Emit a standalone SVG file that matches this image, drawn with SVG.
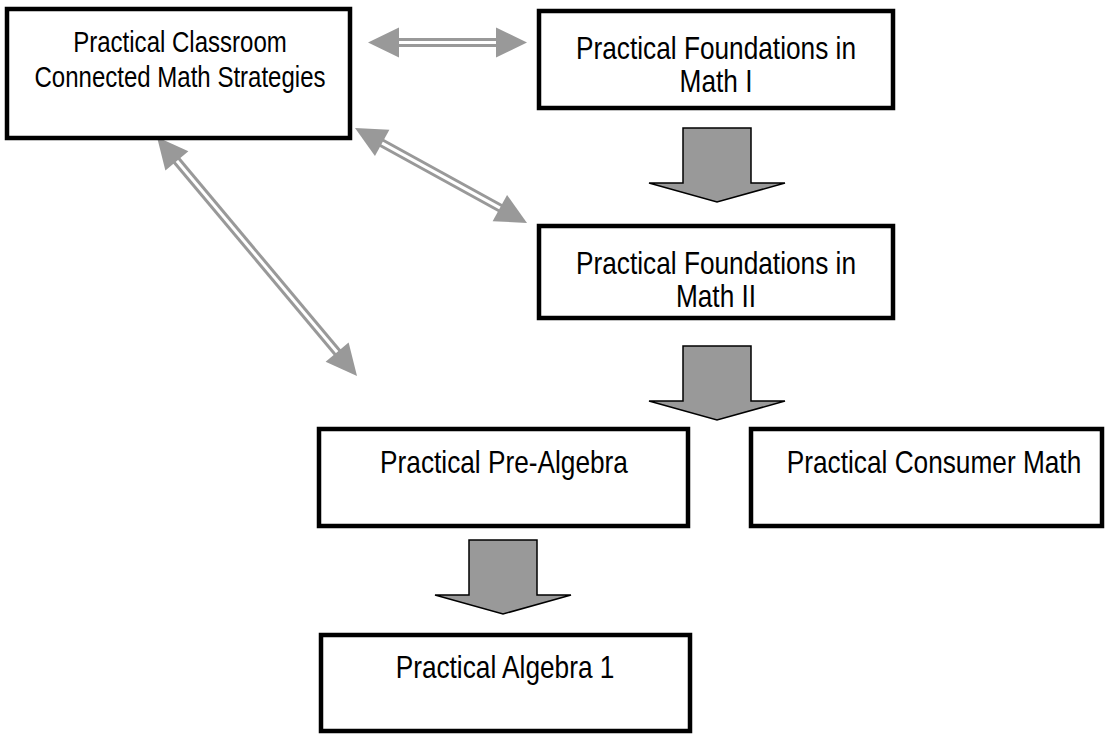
<svg xmlns="http://www.w3.org/2000/svg" width="1110" height="734" viewBox="0 0 1110 734">
  <style>
    .box { fill: #ffffff; stroke: #000000; stroke-width: 4.5; }
    .label { font-family: "Liberation Sans", Arial, sans-serif; font-size: 32px; fill: #000000; text-anchor: middle; }
    .small { font-size: 29.3px; }
    .block { fill: #999999; stroke: #000000; stroke-width: 1.5; stroke-linejoin: miter; }
    .rail { fill: none; stroke: #999999; stroke-width: 9; }
    .gap { fill: none; stroke: #ffffff; stroke-width: 3; }
    .head { fill: #999999; }
  </style>
  <defs>
    <!-- downward block arrow, origin at the top-left of the shaft -->
    <path id="blockArrow" class="block" d="M0,0 H68 V55 H102 L34,74 L-34,55 H0 Z"/>
    <!-- filled triangular head pointing to +x, tip at origin -->
    <path id="tip" class="head" d="M0,0 L-31,-15 L-31,15 Z"/>
  </defs>

  <g id="connectors">
    <!-- double-ruled links with heads at both ends -->
    <g id="link-classroom-found1">
      <path class="rail" d="M395,42.5 H501"/>
      <path class="gap" d="M395,42.5 H501"/>
      <use href="#tip" transform="translate(527,42.5)"/>
      <use href="#tip" transform="translate(368,42.5) rotate(180)"/>
    </g>
    <g id="link-classroom-found2">
      <path class="rail" d="M379,141.4 L503,209.6"/>
      <path class="gap" d="M379,141.4 L503,209.6"/>
      <use href="#tip" transform="translate(527,223) rotate(28.8)"/>
      <use href="#tip" transform="translate(355,128) rotate(208.8)"/>
    </g>
    <g id="link-classroom-prealg">
      <path class="rail" d="M174.5,158 L339.5,355"/>
      <path class="gap" d="M174.5,158 L339.5,355"/>
      <use href="#tip" transform="translate(357,376) rotate(50.1)"/>
      <use href="#tip" transform="translate(157,137) rotate(230.1)"/>
    </g>
    <!-- block arrows between stages -->
    <use href="#blockArrow" transform="translate(683,128)"/>
    <use href="#blockArrow" transform="translate(683,346)"/>
    <use href="#blockArrow" transform="translate(469,540)"/>
  </g>

  <!-- labels are set in a condensed face: regular sans squeezed to 82% width -->
  <g id="node-classroom">
    <rect class="box" x="7" y="9" width="343" height="129"/>
    <text class="label small" transform="translate(180,52) scale(0.82,1)">Practical Classroom</text>
    <text class="label small" transform="translate(180,87) scale(0.82,1)">Connected Math Strategies</text>
  </g>

  <g id="node-foundations-1">
    <rect class="box" x="539" y="11" width="354" height="97"/>
    <text class="label" transform="translate(716,59) scale(0.82,1)">Practical Foundations in</text>
    <text class="label" transform="translate(716,92) scale(0.82,1)">Math I</text>
  </g>

  <g id="node-foundations-2">
    <rect class="box" x="539" y="226" width="354" height="92"/>
    <text class="label" transform="translate(716,274) scale(0.82,1)">Practical Foundations in</text>
    <text class="label" transform="translate(716,307) scale(0.82,1)">Math II</text>
  </g>

  <g id="node-pre-algebra">
    <rect class="box" x="319" y="429" width="369" height="97"/>
    <text class="label" transform="translate(504,473) scale(0.82,1)">Practical Pre-Algebra</text>
  </g>

  <g id="node-consumer-math">
    <rect class="box" x="751" y="429" width="351" height="97"/>
    <text class="label" transform="translate(934,473) scale(0.82,1)">Practical Consumer Math</text>
  </g>

  <g id="node-algebra-1">
    <rect class="box" x="321" y="635" width="369" height="96"/>
    <text class="label" transform="translate(505,678) scale(0.82,1)">Practical Algebra 1</text>
  </g>
</svg>
